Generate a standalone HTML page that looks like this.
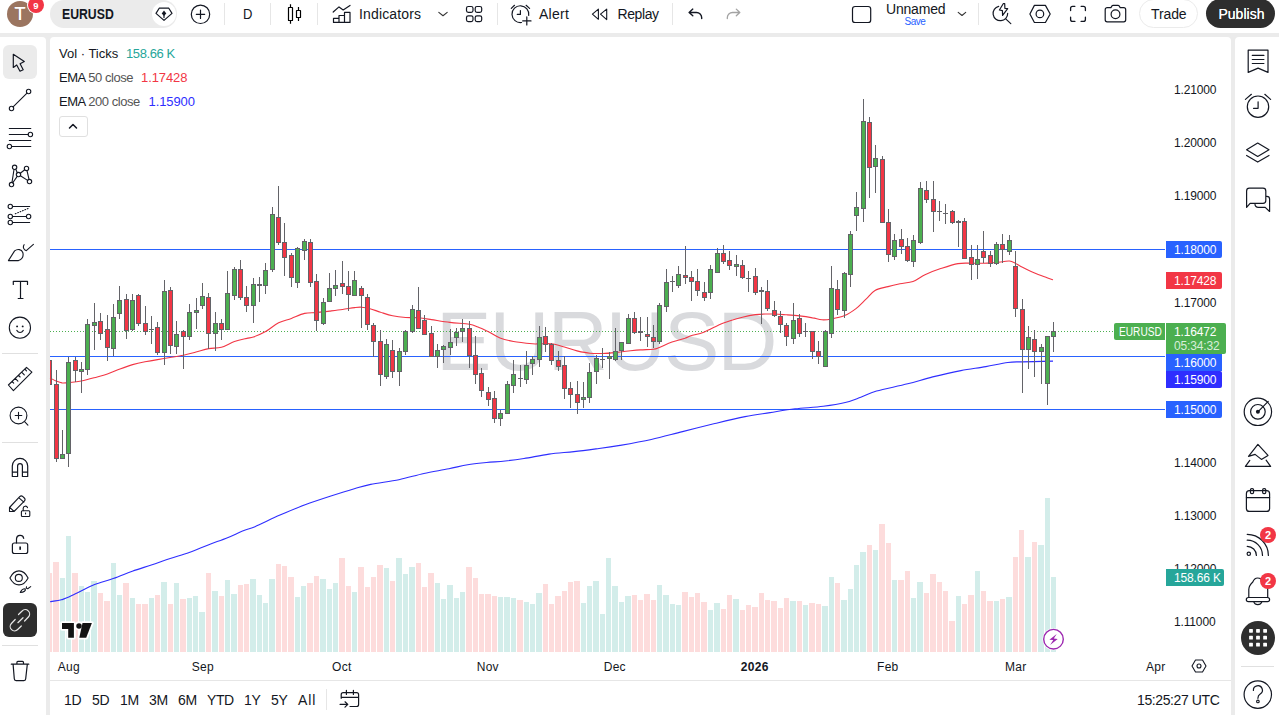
<!DOCTYPE html>
<html lang="en">
<head>
<meta charset="utf-8">
<title>EURUSD chart</title>
<style>
*{box-sizing:border-box;margin:0;padding:0}
html,body{width:1279px;height:715px;overflow:hidden}
body{background:#ebebeb;font-family:"Liberation Sans",sans-serif;color:#131722;position:relative;font-size:14px}
.abs{position:absolute}
.panel{position:absolute;background:#fff}
#top{left:0;top:0;width:1279px;height:33px}
#left{left:0;top:37px;width:46px;height:678px;border-top-right-radius:4px}
#chart{left:50px;top:37px;width:1181px;height:678px;border-top-left-radius:4px;border-top-right-radius:4px}
#right{left:1235px;top:37px;width:44px;height:678px;border-top-left-radius:4px}
.t{position:absolute;white-space:nowrap;line-height:1}
.sep{position:absolute;width:1px;background:#e6e6e6}
.hsep{position:absolute;height:1px;background:#e0e0e0}
svg{position:absolute;overflow:visible}
.ic{fill:none;stroke:#131722;stroke-width:1.1;stroke-linecap:round;stroke-linejoin:round}
.plab{position:absolute;left:1166px;width:56px;height:17px;color:#fff;font-size:12px;line-height:17px;padding:1px 0 0 8px;border-radius:0 2px 2px 0;letter-spacing:-0.15px;overflow:hidden}
.ax{position:absolute;left:1174px;font-size:12px;line-height:14px;color:#131722;letter-spacing:-0.15px}
.tx{position:absolute;top:659.5px;margin-left:0.8px;font-size:12px;line-height:14px;color:#131722;transform:translateX(-50%);white-space:nowrap;letter-spacing:0.3px}
.lg{font-size:13px;line-height:14px}
.bt{position:absolute;top:692px;font-size:14px;line-height:16px;color:#131722;white-space:nowrap;letter-spacing:-0.4px}
</style>
</head>
<body>
<!-- ===== TOP BAR ===== -->
<div id="top" class="panel"></div>
<div class="abs" style="left:7px;top:0.500px;width:26px;height:26px;border-radius:50%;background:#9b7560"></div>
<div class="t" style="left:14.500px;top:5px;font-size:18px;color:#fff;text-shadow:0 0 .5px #fff">T</div>
<div class="abs" style="left:27px;top:-4.200px;width:18px;height:18px;border-radius:50%;background:#fff"></div>
<div class="abs" style="left:28px;top:-3.200px;width:16px;height:16px;border-radius:50%;background:#f23645"></div>
<div class="t" style="left:33.300px;top:0.700px;font-size:9.500px;font-weight:bold;color:#fff">9</div>

<div class="abs" style="left:50px;top:0;width:127px;height:28px;border-radius:14px;background:#ebebeb"></div>
<div class="t" style="left:62px;top:7px;font-size:14px;font-weight:bold;transform:scaleX(.875);transform-origin:left">EURUSD</div>
<div class="abs" style="left:152px;top:2px;width:24px;height:24px;border-radius:50%;background:#fff"></div>
<svg style="left:152px;top:2px" width="24" height="24" viewBox="152 2 24 24"><path class="ic" style="stroke-width:1.200" d="M159.200 8.200h9.600l3.200 5.200-8 7-8-7z"/><path d="M164 10.600l2.300 2.800-2.300 2.600-2.300-2.600z" fill="#131722"/><path d="M164 15v2.600" class="ic" style="stroke-width:1.200"/></svg>

<svg style="left:0;top:0" width="1279" height="34" viewBox="0 0 1279 34">
<!-- plus -->
<circle class="ic" style="stroke-width:1.200" cx="200.500" cy="14.300" r="9.200"/><path class="ic" style="stroke-width:1.200" d="M200.500 10.100v8.400M196.300 14.300h8.400"/>
<!-- candles -->
<g class="ic" style="stroke-width:1.200;stroke:#000;stroke-linecap:butt"><path d="M290.500 4.200v3.300M290.500 20.500v3.200M298.500 7v3.500M298.500 17.500v3.400"/><rect x="288.500" y="7.500" width="4" height="13" rx=".3"/><rect x="296.500" y="10.500" width="4" height="7" rx=".3"/></g>
<!-- indicators -->
<path class="ic" style="stroke-width:1.200" d="M333.200 12l5.800-5.100 4.200 3 6.800-4.500"/><path class="ic" style="stroke-width:1.200" d="M333.500 22.400v-4.100h5.500v4.100M339 22.400v-6.900h5.500v6.900M344.500 22.400V12.400h5.500v10zM333.500 22.400h16.500"/>
<!-- chevron -->
<path class="ic" style="stroke-width:1.100;stroke:#333" d="M438.800 12.400l4.200 3.400 4.200-3.400"/>
<!-- grid -->
<g class="ic" style="stroke-width:1.200"><rect x="466.500" y="6.500" width="6.500" height="5.800" rx="1.800"/><rect x="475.200" y="6.500" width="6.500" height="5.800" rx="1.800"/><rect x="466.500" y="15.800" width="6.500" height="5.800" rx="1.800"/><rect x="475.200" y="15.800" width="6.500" height="5.800" rx="1.800"/></g>
<!-- alert -->
<path class="ic" style="stroke-width:1.200" d="M528.700 15.400A8.400 8.400 0 1 0 521.500 22.500"/><path class="ic" style="stroke-width:1.200" d="M520.400 10.500v3.900h-3.100M511.300 8.400l3.200-3.100M526.100 5.300l3.500 3.100M526.800 16.900v8.100M522.700 20.900h8.300"/>
<!-- replay -->
<path class="ic" style="stroke-width:1.100" d="M598.400 9.100v10.200l-6-5.100zM606.700 9.100v10.500l-6.200-5.400z"/>
<!-- undo / redo -->
<path class="ic" style="stroke-width:1.400" d="M692.800 9.100l-3.700 3.400 3.700 3.300M689.300 12.500h7.200a5.200 5.200 0 0 1 5.200 5.200v.9"/>
<path class="ic" style="stroke-width:1.300;stroke:#a3a3a3" d="M736.300 9.100l3.500 3.400-3.500 3.300M739.600 12.500h-7.100a5.200 5.200 0 0 0-5.200 5.200v.9"/>
<!-- layout -->
<rect class="ic" style="stroke-width:1.200" x="852.500" y="6.500" width="18.200" height="16" rx="2.600"/>
<path class="ic" style="stroke-width:1.100;stroke:#333" d="M958.200 12.400l3.800 3.100 3.700-3.100"/>
<!-- quick search -->
<path class="ic" style="stroke-width:1.200" d="M998.700 6.300a7.300 7.300 0 1 0 9 7M1005.700 18.900l5.100 4.700"/><path class="ic" style="stroke-width:1.200" d="M1003.400 3.500L999.400 10l3 .600.200 4.800 5.100-6.700-2.800-.400-.200-4.800z"/>
<!-- settings -->
<path class="ic" style="stroke-width:1.200" d="M1034.400 5.400h11l4.800 8.600-4.800 8.500h-11l-4.500-8.500z"/><circle class="ic" style="stroke-width:1.200" cx="1039.900" cy="13.900" r="3.800"/>
<!-- fullscreen -->
<path class="ic" style="stroke-width:1.300" d="M1070.600 10.500v-2.200a2 2 0 0 1 2-2h2.300M1081.100 6.300h2.300a2 2 0 0 1 2 2v2.200M1085.400 17.200v2.200a2 2 0 0 1-2 2h-2.300M1074.900 21.400h-2.300a2 2 0 0 1-2-2v-2.200"/>
<!-- camera -->
<path class="ic" style="stroke-width:1.200" d="M1107.200 7.700h3.700l1.300-2a1 1 0 0 1 .800-.400h5.100a1 1 0 0 1 .800.400l1.300 2h3.500a2 2 0 0 1 2 2v10.100a2 2 0 0 1-2 2h-16.500a2 2 0 0 1-2-2V9.700a2 2 0 0 1 2-2z"/><circle class="ic" style="stroke-width:1.200" cx="1115.500" cy="14.200" r="4.400"/>
</svg>
<div class="sep" style="left:224px;top:3px;height:22px"></div>
<div class="t" style="left:243px;top:7px;font-size:14px;transform:scaleX(.93);transform-origin:left">D</div>
<div class="sep" style="left:270px;top:3px;height:22px"></div>
<div class="sep" style="left:317px;top:3px;height:22px"></div>
<div class="t" style="left:359px;top:7px;font-size:14px;letter-spacing:0.150px">Indicators</div>
<div class="sep" style="left:497px;top:3px;height:22px"></div>
<div class="t" style="left:539px;top:7px;font-size:14px;letter-spacing:0.250px">Alert</div>
<div class="t" style="left:617.500px;top:7px;font-size:14px;letter-spacing:-0.4px">Replay</div>
<div class="sep" style="left:672px;top:3px;height:22px"></div>
<div class="t" style="left:886px;top:2px;font-size:14px;letter-spacing:-0.2px">Unnamed</div>
<div class="t" style="left:904.500px;top:17px;font-size:10px;color:#2962ff;letter-spacing:-0.5px">Save</div>
<div class="sep" style="left:978px;top:3px;height:22px"></div>
<div class="abs" style="left:1139px;top:-1px;width:59px;height:29px;border-radius:14.500px;border:1px solid #ebebeb;background:#fff"></div>
<div class="t" style="left:1151px;top:7px;font-size:14px;letter-spacing:-0.1px">Trade</div>
<div class="abs" style="left:1206px;top:-1px;width:69px;height:29px;border-radius:14.500px;background:#2e2e2e"></div>
<div class="t" style="left:1218.500px;top:7px;font-size:14px;color:#fff;text-shadow:0 0 .4px #fff">Publish</div>

<!-- ===== LEFT TOOLBAR ===== -->
<div id="left" class="panel"></div>
<div class="abs" style="left:3px;top:45px;width:34px;height:34px;border-radius:6px;background:#ebebeb"></div>
<svg id="li" style="left:0;top:0" width="46" height="715" viewBox="0 0 46 715">
<!-- cursor -->
<path class="ic" style="stroke-width:1.200" d="M13.300 54.300V67.500l3.400-2.500 3.300 6.200 3.200-1.400-3.100-6 4.200-2.400z"/>
<!-- trend line -->
<circle class="ic" cx="11.500" cy="108.500" r="2.200"/><circle class="ic" cx="28.600" cy="91.500" r="2.200"/><path class="ic" d="M13.100 106.900L27 93.100"/>
<!-- fib -->
<path class="ic" d="M9.300 128.500h21.500M9.300 134.500h18.800M9.300 140.500h21.500M11.800 146.500h19"/><circle class="ic" cx="30.400" cy="134.500" r="2.200"/><circle class="ic" cx="9.400" cy="146.500" r="2.200"/>
<!-- pattern -->
<circle class="ic" cx="14.600" cy="167.300" r="2.200"/><circle class="ic" cx="26.500" cy="168.400" r="2.200"/><circle class="ic" cx="18.500" cy="174.600" r="2.200"/><circle class="ic" cx="11.500" cy="184.600" r="2.200"/><circle class="ic" cx="29.500" cy="181.600" r="2.200"/>
<path class="ic" d="M14 169.500l-2 12.900M15.800 169.200l1.500 3.500M17.200 176.400l-4.400 6.400M20.300 173.200l4.400-3.400M27 170.600l2 8.800M20.400 175.800l7.200 4.600"/>
<!-- forecast -->
<path class="ic" d="M12.600 206.500h17.100M12.600 216.500h13.700M12.600 222.500h17.100"/><circle class="ic" cx="10.300" cy="206.500" r="2.200"/><circle class="ic" cx="10.300" cy="216.500" r="2.200"/><circle class="ic" cx="28.600" cy="216.500" r="2.200"/><circle class="ic" cx="10.300" cy="222.500" r="2.200"/><path class="ic" stroke-dasharray="0.800 1.800" d="M15.300 213.800l13-5.400"/>
<!-- brush -->
<path class="ic" d="M8.400 260.600l6.200-9.700c3-2.400 7-1.600 8.200 1.600 1 3.800-1 6.800-4.300 8.100zM24.100 244.700c-1.600 2.400-.300 5.400 2.200 5.900M26.300 250.600l7.100-6.200"/>
<!-- T -->
<path class="ic" style="stroke-width:1.200" d="M13.300 284.500v-3.200h14.200v3.200M20.500 281.300V298.500M18.200 298.500h4.800"/>
<!-- smiley -->
<circle class="ic" cx="19.900" cy="327.700" r="10.600"/><circle cx="17.100" cy="326.400" r=".95" fill="#131722"/><circle cx="22.700" cy="326.400" r=".95" fill="#131722"/><path class="ic" d="M16.800 330.400c1.700 2.800 4.800 2.800 6.500 0"/>
<!-- ruler -->
<path class="ic" d="M8.400 385L26.500 367.300l5.400 4.800L13.400 390.600zM12 381.400l1.700 1.800M15.200 378.300l2.700 2.800M18.400 375.200l1.700 1.800M21.600 372.100l2.700 2.800M24.800 369l1.700 1.800"/>
<!-- zoom -->
<circle class="ic" cx="18.500" cy="415.500" r="8.400"/><path class="ic" d="M24.600 421.700l3.300 3.400M18.500 412.300v6.500M15.200 415.500h6.600"/>
<!-- magnet -->
<path class="ic" style="stroke-width:1.200" d="M12.300 476.500V466a7.700 7.700 0 0 1 15.400 0v10.500h-5.300V466a2.400 2.400 0 0 0-4.800 0v10.500zM12.300 472.200h5.300M22.400 472.200h5.300"/>
<!-- pencil lock -->
<path class="ic" d="M9.500 507.500v4h4.500l10.300-10.300a2.300 2.300 0 0 0 0-3.200l-1.400-1.400a2.300 2.300 0 0 0-3.200 0zM9.800 507.300l4.200 4.200M19 497.800l4.800 4.400"/><rect class="ic" x="21.400" y="510.700" width="8.400" height="5.800" rx="1"/><path class="ic" d="M23.200 510.600v-2.300a2.200 2.200 0 0 1 4.300-.600"/><rect x="25" y="512.600" width="1.100" height="1.800" fill="#131722"/>
<!-- lock -->
<rect class="ic" style="stroke-width:1.200" x="12.400" y="543" width="15.300" height="10.500" rx="2"/><path class="ic" style="stroke-width:1.200" d="M16.500 543v-4.200a3.650 3.650 0 0 1 7.200-.500"/><rect x="19.300" y="546.500" width="1.700" height="3.300" fill="#131722"/>
<!-- eye -->
<path class="ic" d="M9.900 577.900c2.400-4.600 5.600-7 9.100-7s6.700 2.400 9.100 7c-2.400 4.600-5.600 7-9.100 7s-6.700-2.400-9.100-7z"/><circle class="ic" cx="18.800" cy="577.900" r="3.500"/><path class="ic" d="M20.300 592.500c1-2.400 2.800-3.800 5-3.700.600 1.800-1.200 3.600-5 3.700zM26.500 586.800c-.500 1 .200 1.900 1.100 1.900M27.700 588.700l3-2.100"/>
<!-- trash -->
<path class="ic" style="stroke-width:1.200" d="M11.300 664.200h17.500M16.900 664v-1.600a1 1 0 0 1 1-1h4.600a1 1 0 0 1 1 1v1.600M13.100 664.400l1.200 14.400a1.800 1.800 0 0 0 1.800 1.800h7.800a1.800 1.800 0 0 0 1.800-1.800l1.600-14.400"/>
</svg>
<div class="hsep" style="left:2px;top:353px;width:36px"></div>
<div class="hsep" style="left:2px;top:442px;width:36px"></div>
<div class="abs" style="left:3px;top:603px;width:34px;height:34px;border-radius:6px;background:#2e2e2e"></div>
<svg style="left:0;top:0" width="46" height="715" viewBox="0 0 46 715"><path class="ic" style="stroke:#e8e8e8;stroke-width:1.200" d="M18.500 614.500l3.600-3.500a4.300 4.300 0 0 1 6.300 6l-3.800 4M21.300 626l-3.600 3.500a4.300 4.300 0 0 1-6.300-6l3.800-4M17.900 622.700l5.100-5"/></svg>
<div class="hsep" style="left:2px;top:645px;width:36px"></div>

<!-- ===== CHART ===== -->
<div id="chart" class="panel"></div>
<div class="t" style="left:436px;top:300px;font-size:83px;color:#d9dadd;letter-spacing:-1.8px" id="wm">EURUSD</div>
<svg id="chartsvg" style="left:0;top:0" width="1279" height="715" viewBox="0 0 1279 715">
<defs><clipPath id="plotclip"><rect x="50" y="37" width="1116" height="615"/></clipPath></defs>
<g shape-rendering="crispEdges"><rect x="50" y="573" width="2" height="79" fill="#fddcdc"/><rect x="53" y="562" width="6" height="90" fill="#fddcdc"/><rect x="60" y="578" width="5" height="74" fill="#d3edea"/><rect x="66" y="536" width="5" height="116" fill="#d3edea"/><rect x="72" y="573" width="6" height="79" fill="#fddcdc"/><rect x="79" y="586" width="5" height="66" fill="#d3edea"/><rect x="85" y="592" width="5" height="60" fill="#d3edea"/><rect x="91" y="581" width="6" height="71" fill="#d3edea"/><rect x="98" y="593" width="5" height="59" fill="#fddcdc"/><rect x="104" y="601" width="6" height="51" fill="#fddcdc"/><rect x="111" y="563" width="5" height="89" fill="#d3edea"/><rect x="117" y="595" width="5" height="57" fill="#d3edea"/><rect x="123" y="583" width="6" height="69" fill="#fddcdc"/><rect x="130" y="598" width="5" height="54" fill="#d3edea"/><rect x="136" y="604" width="5" height="48" fill="#fddcdc"/><rect x="142" y="604" width="6" height="48" fill="#fddcdc"/><rect x="149" y="598" width="5" height="54" fill="#d3edea"/><rect x="155" y="595" width="5" height="57" fill="#fddcdc"/><rect x="161" y="582" width="6" height="70" fill="#d3edea"/><rect x="168" y="604" width="5" height="48" fill="#fddcdc"/><rect x="174" y="583" width="5" height="69" fill="#d3edea"/><rect x="180" y="599" width="6" height="53" fill="#fddcdc"/><rect x="187" y="598" width="5" height="54" fill="#d3edea"/><rect x="193" y="596" width="5" height="56" fill="#d3edea"/><rect x="199" y="612" width="6" height="40" fill="#d3edea"/><rect x="206" y="573" width="5" height="79" fill="#fddcdc"/><rect x="212" y="591" width="6" height="61" fill="#d3edea"/><rect x="219" y="596" width="5" height="56" fill="#fddcdc"/><rect x="225" y="580" width="5" height="72" fill="#d3edea"/><rect x="231" y="594" width="6" height="58" fill="#d3edea"/><rect x="238" y="585" width="5" height="67" fill="#fddcdc"/><rect x="244" y="584" width="5" height="68" fill="#fddcdc"/><rect x="250" y="579" width="6" height="73" fill="#d3edea"/><rect x="257" y="595" width="5" height="57" fill="#d3edea"/><rect x="263" y="603" width="5" height="49" fill="#d3edea"/><rect x="269" y="579" width="6" height="73" fill="#d3edea"/><rect x="276" y="564" width="5" height="88" fill="#fddcdc"/><rect x="282" y="566" width="5" height="86" fill="#fddcdc"/><rect x="288" y="577" width="6" height="75" fill="#fddcdc"/><rect x="295" y="597" width="5" height="55" fill="#d3edea"/><rect x="301" y="586" width="5" height="66" fill="#d3edea"/><rect x="307" y="583" width="6" height="69" fill="#fddcdc"/><rect x="314" y="576" width="5" height="76" fill="#fddcdc"/><rect x="320" y="579" width="6" height="73" fill="#d3edea"/><rect x="327" y="589" width="5" height="63" fill="#d3edea"/><rect x="333" y="583" width="5" height="69" fill="#d3edea"/><rect x="339" y="558" width="6" height="94" fill="#fddcdc"/><rect x="346" y="586" width="5" height="66" fill="#fddcdc"/><rect x="352" y="592" width="5" height="60" fill="#d3edea"/><rect x="358" y="567" width="6" height="85" fill="#fddcdc"/><rect x="365" y="587" width="5" height="65" fill="#fddcdc"/><rect x="371" y="577" width="5" height="75" fill="#fddcdc"/><rect x="377" y="565" width="6" height="87" fill="#fddcdc"/><rect x="384" y="568" width="5" height="84" fill="#d3edea"/><rect x="390" y="581" width="5" height="71" fill="#fddcdc"/><rect x="396" y="558" width="6" height="94" fill="#d3edea"/><rect x="403" y="574" width="5" height="78" fill="#d3edea"/><rect x="409" y="567" width="6" height="85" fill="#d3edea"/><rect x="416" y="563" width="5" height="89" fill="#fddcdc"/><rect x="422" y="587" width="5" height="65" fill="#fddcdc"/><rect x="428" y="573" width="6" height="79" fill="#fddcdc"/><rect x="435" y="583" width="5" height="69" fill="#d3edea"/><rect x="441" y="599" width="5" height="53" fill="#d3edea"/><rect x="447" y="585" width="6" height="67" fill="#d3edea"/><rect x="454" y="598" width="5" height="54" fill="#d3edea"/><rect x="460" y="592" width="5" height="60" fill="#d3edea"/><rect x="466" y="567" width="6" height="85" fill="#fddcdc"/><rect x="473" y="578" width="5" height="74" fill="#fddcdc"/><rect x="479" y="594" width="5" height="58" fill="#fddcdc"/><rect x="485" y="594" width="6" height="58" fill="#fddcdc"/><rect x="492" y="596" width="5" height="56" fill="#fddcdc"/><rect x="498" y="597" width="5" height="55" fill="#d3edea"/><rect x="504" y="597" width="6" height="55" fill="#d3edea"/><rect x="511" y="598" width="5" height="54" fill="#d3edea"/><rect x="517" y="600" width="6" height="52" fill="#fddcdc"/><rect x="524" y="602" width="5" height="50" fill="#d3edea"/><rect x="530" y="604" width="5" height="48" fill="#d3edea"/><rect x="536" y="593" width="6" height="59" fill="#d3edea"/><rect x="543" y="584" width="5" height="68" fill="#fddcdc"/><rect x="549" y="604" width="5" height="48" fill="#fddcdc"/><rect x="555" y="596" width="6" height="56" fill="#fddcdc"/><rect x="562" y="591" width="5" height="61" fill="#fddcdc"/><rect x="568" y="582" width="5" height="70" fill="#fddcdc"/><rect x="574" y="581" width="6" height="71" fill="#fddcdc"/><rect x="581" y="603" width="5" height="49" fill="#d3edea"/><rect x="587" y="586" width="5" height="66" fill="#d3edea"/><rect x="593" y="581" width="6" height="71" fill="#d3edea"/><rect x="600" y="614" width="5" height="38" fill="#d3edea"/><rect x="606" y="558" width="5" height="94" fill="#d3edea"/><rect x="612" y="586" width="6" height="66" fill="#d3edea"/><rect x="619" y="602" width="5" height="50" fill="#d3edea"/><rect x="625" y="596" width="6" height="56" fill="#d3edea"/><rect x="632" y="595" width="5" height="57" fill="#fddcdc"/><rect x="638" y="600" width="5" height="52" fill="#fddcdc"/><rect x="644" y="594" width="6" height="58" fill="#fddcdc"/><rect x="651" y="600" width="5" height="52" fill="#fddcdc"/><rect x="657" y="585" width="5" height="67" fill="#d3edea"/><rect x="663" y="595" width="6" height="57" fill="#d3edea"/><rect x="670" y="604" width="5" height="48" fill="#d3edea"/><rect x="676" y="605" width="5" height="47" fill="#d3edea"/><rect x="682" y="592" width="6" height="60" fill="#fddcdc"/><rect x="689" y="597" width="5" height="55" fill="#fddcdc"/><rect x="695" y="593" width="5" height="59" fill="#fddcdc"/><rect x="701" y="602" width="6" height="50" fill="#fddcdc"/><rect x="708" y="610" width="5" height="42" fill="#d3edea"/><rect x="714" y="603" width="6" height="49" fill="#d3edea"/><rect x="721" y="609" width="5" height="43" fill="#fddcdc"/><rect x="727" y="595" width="5" height="57" fill="#fddcdc"/><rect x="733" y="599" width="6" height="53" fill="#d3edea"/><rect x="740" y="610" width="5" height="42" fill="#fddcdc"/><rect x="746" y="605" width="5" height="47" fill="#fddcdc"/><rect x="752" y="607" width="6" height="45" fill="#fddcdc"/><rect x="759" y="593" width="5" height="59" fill="#fddcdc"/><rect x="765" y="600" width="5" height="52" fill="#fddcdc"/><rect x="771" y="601" width="6" height="51" fill="#fddcdc"/><rect x="778" y="608" width="5" height="44" fill="#fddcdc"/><rect x="784" y="598" width="5" height="54" fill="#fddcdc"/><rect x="790" y="601" width="6" height="51" fill="#d3edea"/><rect x="797" y="601" width="5" height="51" fill="#fddcdc"/><rect x="803" y="605" width="5" height="47" fill="#d3edea"/><rect x="809" y="603" width="6" height="49" fill="#fddcdc"/><rect x="816" y="604" width="5" height="48" fill="#fddcdc"/><rect x="822" y="606" width="6" height="46" fill="#d3edea"/><rect x="829" y="577" width="5" height="75" fill="#d3edea"/><rect x="835" y="583" width="5" height="69" fill="#fddcdc"/><rect x="841" y="600" width="6" height="52" fill="#d3edea"/><rect x="848" y="589" width="5" height="63" fill="#d3edea"/><rect x="854" y="565" width="5" height="87" fill="#d3edea"/><rect x="860" y="552" width="6" height="100" fill="#d3edea"/><rect x="867" y="545" width="5" height="107" fill="#fddcdc"/><rect x="873" y="550" width="5" height="102" fill="#d3edea"/><rect x="879" y="524" width="6" height="128" fill="#fddcdc"/><rect x="886" y="543" width="5" height="109" fill="#fddcdc"/><rect x="892" y="580" width="5" height="72" fill="#d3edea"/><rect x="898" y="580" width="6" height="72" fill="#fddcdc"/><rect x="905" y="571" width="5" height="81" fill="#fddcdc"/><rect x="911" y="598" width="5" height="54" fill="#d3edea"/><rect x="917" y="582" width="6" height="70" fill="#d3edea"/><rect x="924" y="593" width="5" height="59" fill="#fddcdc"/><rect x="930" y="574" width="6" height="78" fill="#fddcdc"/><rect x="937" y="582" width="5" height="70" fill="#fddcdc"/><rect x="943" y="591" width="5" height="61" fill="#fddcdc"/><rect x="949" y="621" width="6" height="31" fill="#fddcdc"/><rect x="956" y="596" width="5" height="56" fill="#d3edea"/><rect x="962" y="604" width="5" height="48" fill="#fddcdc"/><rect x="968" y="595" width="6" height="57" fill="#fddcdc"/><rect x="975" y="571" width="5" height="81" fill="#d3edea"/><rect x="981" y="591" width="5" height="61" fill="#fddcdc"/><rect x="987" y="601" width="6" height="51" fill="#fddcdc"/><rect x="994" y="601" width="5" height="51" fill="#d3edea"/><rect x="1000" y="599" width="5" height="53" fill="#fddcdc"/><rect x="1006" y="597" width="6" height="55" fill="#d3edea"/><rect x="1013" y="557" width="5" height="95" fill="#fddcdc"/><rect x="1019" y="530" width="5" height="122" fill="#fddcdc"/><rect x="1025" y="557" width="6" height="95" fill="#d3edea"/><rect x="1032" y="542" width="5" height="110" fill="#fddcdc"/><rect x="1038" y="545" width="6" height="107" fill="#d3edea"/><rect x="1045" y="498" width="5" height="154" fill="#d3edea"/><rect x="1051" y="577" width="5" height="75" fill="#d3edea"/></g>
<g shape-rendering="crispEdges"><rect x="50" y="249" width="1115" height="1" fill="#2962ff"/><rect x="50" y="356" width="1115" height="1" fill="#2962ff"/><rect x="50" y="409" width="1115" height="1" fill="#2962ff"/></g>
<line x1="50" y1="331.5" x2="1114" y2="331.5" stroke="#4caf50" stroke-width="1" stroke-dasharray="1 2" shape-rendering="crispEdges"/>
<path d="M50.2,601.6 C52.2,601.3 58.1,600.9 62.2,599.6 C66.3,598.4 69.6,596.6 74.9,594.1 C80.2,591.6 87.6,587.3 94.0,584.7 C100.4,582.1 106.8,580.9 113.2,578.6 C119.6,576.4 126.0,573.5 132.3,571.2 C138.7,568.9 145.0,567.1 151.3,565.0 C157.6,562.9 163.9,560.6 170.2,558.5 C176.5,556.4 182.9,554.8 189.2,552.5 C195.5,550.2 201.8,547.4 208.2,544.9 C214.6,542.4 221.6,540.1 227.5,537.7 C233.4,535.3 239.3,532.3 243.9,530.5 C248.5,528.7 249.0,529.3 255.0,526.7 C261.0,524.1 271.6,518.8 280.0,515.1 C288.4,511.5 296.8,507.9 305.1,504.8 C313.5,501.7 321.8,499.0 330.1,496.3 C338.4,493.6 348.3,490.5 355.1,488.5 C361.9,486.5 363.4,485.9 370.7,484.4 C378.0,482.9 390.0,481.5 398.9,479.7 C407.8,477.9 415.6,475.3 423.9,473.5 C432.2,471.7 441.6,470.3 448.9,468.8 C456.2,467.3 461.4,465.8 467.7,464.7 C474.0,463.6 480.2,463.1 486.5,462.5 C492.8,461.9 498.9,461.7 505.2,461.0 C511.4,460.3 516.7,459.6 524.0,458.5 C531.3,457.4 540.7,455.2 549.0,454.1 C557.3,453.0 565.7,452.5 574.0,451.6 C582.3,450.7 591.3,449.5 599.0,448.5 C606.7,447.5 611.3,446.9 620.0,445.4 C628.7,443.9 640.9,441.8 651.3,439.5 C661.7,437.2 672.1,434.2 682.5,431.6 C692.9,429.0 703.4,426.3 713.8,423.8 C724.2,421.3 735.7,418.5 745.1,416.6 C754.5,414.7 761.8,413.9 770.1,412.6 C778.4,411.3 786.2,409.9 795.1,408.8 C804.0,407.8 814.9,407.4 823.3,406.3 C831.6,405.2 839.0,404.0 845.2,402.5 C851.5,401.0 855.6,399.1 860.8,397.2 C866.0,395.3 868.7,393.2 876.5,391.0 C884.3,388.8 898.3,386.2 907.7,383.8 C917.1,381.4 923.8,379.1 932.7,376.9 C941.6,374.7 952.0,372.3 960.9,370.6 C969.8,368.9 978.1,368.0 985.9,366.6 C993.7,365.2 1002.1,363.3 1007.8,362.5 C1013.5,361.7 1015.6,362.0 1020.0,361.9 C1024.4,361.8 1028.5,361.7 1034.0,361.6 C1039.5,361.5 1049.8,361.2 1053.0,361.1" fill="none" stroke="#2e2eff" stroke-width="1.1" stroke-linejoin="round"/>
<path d="M50.0,377.9 C51.0,378.4 54.0,380.2 56.0,381.0 C58.0,381.8 59.7,382.6 62.0,382.9 C64.3,383.1 66.8,382.8 70.0,382.5 C73.2,382.2 77.4,381.8 81.4,381.0 C85.4,380.2 89.7,379.0 94.0,377.8 C98.3,376.6 103.1,375.5 107.4,374.0 C111.7,372.5 115.8,370.6 120.0,369.0 C124.2,367.4 128.4,365.8 132.6,364.6 C136.8,363.4 140.8,362.6 145.0,361.8 C149.2,361.0 153.3,360.3 157.5,359.6 C161.7,358.9 165.7,358.2 170.0,357.5 C174.3,356.8 179.2,356.1 183.5,355.2 C187.8,354.3 191.8,353.1 196.0,352.0 C200.2,350.9 204.5,349.4 208.7,348.6 C212.9,347.8 217.1,348.5 221.4,347.3 C225.7,346.1 230.2,343.0 234.4,341.5 C238.6,340.0 243.4,339.1 246.6,338.4 C249.8,337.6 250.2,338.1 253.4,337.0 C256.6,335.9 261.4,334.0 265.6,331.6 C269.8,329.2 274.3,325.0 278.6,322.8 C282.9,320.6 287.1,320.0 291.4,318.4 C295.7,316.8 300.4,314.4 304.6,313.4 C308.8,312.4 312.4,313.0 316.5,312.6 C320.6,312.2 325.2,311.6 329.5,311.1 C333.8,310.6 338.3,310.1 342.5,309.5 C346.7,308.9 351.5,308.0 354.7,307.6 C357.9,307.2 359.1,307.0 361.6,307.2 C364.2,307.4 366.9,307.9 370.0,308.7 C373.1,309.5 376.7,311.0 380.5,312.2 C384.3,313.4 388.4,314.9 392.6,315.8 C396.8,316.7 401.3,317.2 405.6,317.5 C409.9,317.8 414.2,317.4 418.5,317.8 C422.8,318.2 426.2,318.8 431.5,319.6 C436.8,320.4 443.7,321.6 450.0,322.4 C456.3,323.2 464.7,323.5 469.4,324.3 C474.1,325.1 474.8,325.8 478.0,327.0 C481.2,328.2 484.8,330.0 488.5,331.8 C492.2,333.6 495.8,336.4 500.0,338.0 C504.2,339.6 508.1,340.5 513.5,341.5 C518.9,342.5 528.2,343.4 532.5,343.8 C536.8,344.2 536.2,343.8 539.4,343.8 C542.5,343.8 547.2,343.3 551.4,343.8 C555.6,344.3 560.1,345.8 564.4,347.0 C568.7,348.2 572.7,349.8 577.0,350.9 C581.3,351.9 585.7,352.9 590.0,353.3 C594.3,353.7 598.3,353.6 602.6,353.5 C606.9,353.4 611.3,353.0 615.6,352.6 C619.9,352.2 624.2,351.4 628.4,351.0 C632.5,350.6 636.3,350.2 640.5,349.9 C644.7,349.6 650.4,349.6 653.5,349.2 C656.6,348.8 656.3,348.6 659.4,347.4 C662.5,346.2 667.7,343.6 672.0,342.1 C676.3,340.6 681.8,339.2 685.0,338.2 C688.2,337.1 687.8,336.9 691.0,335.8 C694.2,334.8 699.0,334.0 704.4,331.9 C709.8,329.8 717.2,325.4 723.5,323.0 C729.8,320.6 737.1,318.6 742.4,317.2 C747.7,315.8 751.2,315.1 755.4,314.6 C759.6,314.1 764.3,314.1 767.5,314.0 C770.7,313.9 771.4,313.9 774.6,314.0 C777.8,314.1 782.5,314.5 786.6,314.8 C790.8,315.1 795.2,315.4 799.5,315.9 C803.8,316.4 808.8,317.2 812.5,317.9 C816.2,318.5 818.8,319.6 822.0,319.8 C825.2,320.0 827.8,319.7 831.6,319.0 C835.4,318.3 840.5,317.3 844.6,315.6 C848.7,313.9 852.4,311.3 856.0,308.6 C859.6,305.9 862.8,302.2 866.0,299.2 C869.2,296.2 871.3,292.6 875.0,290.5 C878.7,288.4 883.8,287.7 888.0,286.6 C892.2,285.5 895.8,284.7 900.0,283.8 C904.2,282.9 908.8,283.0 913.0,281.5 C917.2,280.0 920.5,276.8 925.0,274.7 C929.5,272.6 934.5,270.6 940.0,268.8 C945.5,267.0 952.8,264.5 958.0,263.6 C963.2,262.7 967.2,263.2 971.5,263.2 C975.8,263.1 980.9,263.3 984.0,263.3 C987.1,263.3 986.9,263.2 990.0,263.0 C993.1,262.8 999.2,262.1 1002.5,261.8 C1005.8,261.5 1007.3,260.7 1009.5,261.0 C1011.7,261.3 1013.3,262.3 1015.5,263.4 C1017.7,264.4 1019.4,265.7 1022.5,267.3 C1025.6,268.9 1029.9,271.1 1034.0,272.8 C1038.1,274.6 1043.8,276.6 1047.0,277.8 C1050.2,279.0 1052.0,279.5 1053.0,279.8" fill="none" stroke="#f23645" stroke-width="1.1" stroke-linejoin="round"/>
<g shape-rendering="crispEdges" clip-path="url(#plotclip)"><rect x="49" y="360" width="1" height="25" fill="#636368"/><rect x="47" y="360" width="5" height="25" fill="#636368"/><rect x="48" y="361" width="3" height="23" fill="#f23645"/><rect x="56" y="370" width="1" height="92" fill="#636368"/><rect x="54" y="384" width="5" height="75" fill="#636368"/><rect x="55" y="385" width="3" height="73" fill="#f23645"/><rect x="62" y="430" width="1" height="29" fill="#636368"/><rect x="60" y="454" width="5" height="5" fill="#636368"/><rect x="61" y="455" width="3" height="3" fill="#4caf50"/><rect x="68" y="357" width="1" height="110" fill="#636368"/><rect x="66" y="362" width="5" height="92" fill="#636368"/><rect x="67" y="363" width="3" height="90" fill="#4caf50"/><rect x="75" y="357" width="1" height="25" fill="#636368"/><rect x="73" y="360" width="5" height="11" fill="#636368"/><rect x="74" y="361" width="3" height="9" fill="#f23645"/><rect x="81" y="362" width="1" height="31" fill="#636368"/><rect x="79" y="369" width="5" height="3" fill="#636368"/><rect x="80" y="370" width="3" height="1" fill="#4caf50"/><rect x="87" y="319" width="1" height="56" fill="#636368"/><rect x="85" y="324" width="5" height="46" fill="#636368"/><rect x="86" y="325" width="3" height="44" fill="#4caf50"/><rect x="94" y="303" width="1" height="47" fill="#636368"/><rect x="92" y="322" width="5" height="4" fill="#636368"/><rect x="93" y="323" width="3" height="2" fill="#4caf50"/><rect x="100" y="313" width="1" height="27" fill="#636368"/><rect x="98" y="321" width="5" height="13" fill="#636368"/><rect x="99" y="322" width="3" height="11" fill="#f23645"/><rect x="107" y="315" width="1" height="46" fill="#636368"/><rect x="105" y="329" width="5" height="19" fill="#636368"/><rect x="106" y="330" width="3" height="17" fill="#f23645"/><rect x="113" y="304" width="1" height="52" fill="#636368"/><rect x="111" y="317" width="5" height="32" fill="#636368"/><rect x="112" y="318" width="3" height="30" fill="#4caf50"/><rect x="119" y="286" width="1" height="33" fill="#636368"/><rect x="117" y="300" width="5" height="14" fill="#636368"/><rect x="118" y="301" width="3" height="12" fill="#4caf50"/><rect x="126" y="294" width="1" height="45" fill="#636368"/><rect x="124" y="299" width="5" height="32" fill="#636368"/><rect x="125" y="300" width="3" height="30" fill="#f23645"/><rect x="132" y="294" width="1" height="37" fill="#636368"/><rect x="130" y="300" width="5" height="30" fill="#636368"/><rect x="131" y="301" width="3" height="28" fill="#4caf50"/><rect x="138" y="294" width="1" height="32" fill="#636368"/><rect x="136" y="295" width="5" height="29" fill="#636368"/><rect x="137" y="296" width="3" height="27" fill="#f23645"/><rect x="145" y="306" width="1" height="29" fill="#636368"/><rect x="143" y="323" width="5" height="9" fill="#636368"/><rect x="144" y="324" width="3" height="7" fill="#f23645"/><rect x="151" y="316" width="1" height="28" fill="#636368"/><rect x="149" y="329" width="5" height="1" fill="#636368"/><rect x="157" y="322" width="1" height="33" fill="#636368"/><rect x="155" y="327" width="5" height="26" fill="#636368"/><rect x="156" y="328" width="3" height="24" fill="#f23645"/><rect x="164" y="280" width="1" height="85" fill="#636368"/><rect x="162" y="291" width="5" height="62" fill="#636368"/><rect x="163" y="292" width="3" height="60" fill="#4caf50"/><rect x="170" y="287" width="1" height="67" fill="#636368"/><rect x="168" y="290" width="5" height="56" fill="#636368"/><rect x="169" y="291" width="3" height="54" fill="#f23645"/><rect x="176" y="321" width="1" height="33" fill="#636368"/><rect x="174" y="334" width="5" height="13" fill="#636368"/><rect x="175" y="335" width="3" height="11" fill="#4caf50"/><rect x="183" y="330" width="1" height="39" fill="#636368"/><rect x="181" y="331" width="5" height="6" fill="#636368"/><rect x="182" y="332" width="3" height="4" fill="#f23645"/><rect x="189" y="304" width="1" height="36" fill="#636368"/><rect x="187" y="312" width="5" height="25" fill="#636368"/><rect x="188" y="313" width="3" height="23" fill="#4caf50"/><rect x="196" y="298" width="1" height="31" fill="#636368"/><rect x="194" y="310" width="5" height="3" fill="#636368"/><rect x="195" y="311" width="3" height="1" fill="#4caf50"/><rect x="202" y="283" width="1" height="26" fill="#636368"/><rect x="200" y="296" width="5" height="10" fill="#636368"/><rect x="201" y="297" width="3" height="8" fill="#4caf50"/><rect x="208" y="293" width="1" height="56" fill="#636368"/><rect x="206" y="297" width="5" height="37" fill="#636368"/><rect x="207" y="298" width="3" height="35" fill="#f23645"/><rect x="215" y="312" width="1" height="39" fill="#636368"/><rect x="213" y="323" width="5" height="11" fill="#636368"/><rect x="214" y="324" width="3" height="9" fill="#4caf50"/><rect x="221" y="319" width="1" height="21" fill="#636368"/><rect x="219" y="323" width="5" height="7" fill="#636368"/><rect x="220" y="324" width="3" height="5" fill="#f23645"/><rect x="227" y="271" width="1" height="59" fill="#636368"/><rect x="225" y="293" width="5" height="37" fill="#636368"/><rect x="226" y="294" width="3" height="35" fill="#4caf50"/><rect x="234" y="267" width="1" height="33" fill="#636368"/><rect x="232" y="269" width="5" height="27" fill="#636368"/><rect x="233" y="270" width="3" height="25" fill="#4caf50"/><rect x="240" y="260" width="1" height="40" fill="#636368"/><rect x="238" y="269" width="5" height="29" fill="#636368"/><rect x="239" y="270" width="3" height="27" fill="#f23645"/><rect x="246" y="286" width="1" height="26" fill="#636368"/><rect x="244" y="297" width="5" height="9" fill="#636368"/><rect x="245" y="298" width="3" height="7" fill="#f23645"/><rect x="253" y="278" width="1" height="45" fill="#636368"/><rect x="251" y="284" width="5" height="22" fill="#636368"/><rect x="252" y="285" width="3" height="20" fill="#4caf50"/><rect x="259" y="277" width="1" height="25" fill="#636368"/><rect x="257" y="284" width="5" height="2" fill="#636368"/><rect x="265" y="263" width="1" height="31" fill="#636368"/><rect x="263" y="270" width="5" height="16" fill="#636368"/><rect x="264" y="271" width="3" height="14" fill="#4caf50"/><rect x="272" y="207" width="1" height="65" fill="#636368"/><rect x="270" y="214" width="5" height="56" fill="#636368"/><rect x="271" y="215" width="3" height="54" fill="#4caf50"/><rect x="278" y="186" width="1" height="59" fill="#636368"/><rect x="276" y="217" width="5" height="26" fill="#636368"/><rect x="277" y="218" width="3" height="24" fill="#f23645"/><rect x="284" y="223" width="1" height="53" fill="#636368"/><rect x="282" y="242" width="5" height="16" fill="#636368"/><rect x="283" y="243" width="3" height="14" fill="#f23645"/><rect x="291" y="253" width="1" height="34" fill="#636368"/><rect x="289" y="255" width="5" height="23" fill="#636368"/><rect x="290" y="256" width="3" height="21" fill="#f23645"/><rect x="297" y="247" width="1" height="41" fill="#636368"/><rect x="295" y="248" width="5" height="35" fill="#636368"/><rect x="296" y="249" width="3" height="33" fill="#4caf50"/><rect x="304" y="239" width="1" height="21" fill="#636368"/><rect x="302" y="241" width="5" height="10" fill="#636368"/><rect x="303" y="242" width="3" height="8" fill="#4caf50"/><rect x="310" y="239" width="1" height="48" fill="#636368"/><rect x="308" y="242" width="5" height="41" fill="#636368"/><rect x="309" y="243" width="3" height="39" fill="#f23645"/><rect x="316" y="274" width="1" height="57" fill="#636368"/><rect x="314" y="281" width="5" height="40" fill="#636368"/><rect x="315" y="282" width="3" height="38" fill="#f23645"/><rect x="323" y="298" width="1" height="27" fill="#636368"/><rect x="321" y="302" width="5" height="22" fill="#636368"/><rect x="322" y="303" width="3" height="20" fill="#4caf50"/><rect x="329" y="273" width="1" height="29" fill="#636368"/><rect x="327" y="288" width="5" height="14" fill="#636368"/><rect x="328" y="289" width="3" height="12" fill="#4caf50"/><rect x="335" y="270" width="1" height="26" fill="#636368"/><rect x="333" y="285" width="5" height="4" fill="#636368"/><rect x="334" y="286" width="3" height="2" fill="#4caf50"/><rect x="342" y="261" width="1" height="33" fill="#636368"/><rect x="340" y="283" width="5" height="4" fill="#636368"/><rect x="341" y="284" width="3" height="2" fill="#f23645"/><rect x="348" y="271" width="1" height="40" fill="#636368"/><rect x="346" y="286" width="5" height="9" fill="#636368"/><rect x="347" y="287" width="3" height="7" fill="#f23645"/><rect x="354" y="271" width="1" height="25" fill="#636368"/><rect x="352" y="280" width="5" height="16" fill="#636368"/><rect x="353" y="281" width="3" height="14" fill="#4caf50"/><rect x="361" y="286" width="1" height="42" fill="#636368"/><rect x="359" y="288" width="5" height="8" fill="#636368"/><rect x="360" y="289" width="3" height="6" fill="#f23645"/><rect x="367" y="294" width="1" height="36" fill="#636368"/><rect x="365" y="297" width="5" height="28" fill="#636368"/><rect x="366" y="298" width="3" height="26" fill="#f23645"/><rect x="373" y="323" width="1" height="34" fill="#636368"/><rect x="371" y="325" width="5" height="17" fill="#636368"/><rect x="372" y="326" width="3" height="15" fill="#f23645"/><rect x="380" y="330" width="1" height="56" fill="#636368"/><rect x="378" y="341" width="5" height="34" fill="#636368"/><rect x="379" y="342" width="3" height="32" fill="#f23645"/><rect x="386" y="339" width="1" height="40" fill="#636368"/><rect x="384" y="344" width="5" height="33" fill="#636368"/><rect x="385" y="345" width="3" height="31" fill="#4caf50"/><rect x="392" y="340" width="1" height="38" fill="#636368"/><rect x="390" y="350" width="5" height="22" fill="#636368"/><rect x="391" y="351" width="3" height="20" fill="#f23645"/><rect x="399" y="348" width="1" height="38" fill="#636368"/><rect x="397" y="351" width="5" height="21" fill="#636368"/><rect x="398" y="352" width="3" height="19" fill="#4caf50"/><rect x="405" y="330" width="1" height="25" fill="#636368"/><rect x="403" y="331" width="5" height="21" fill="#636368"/><rect x="404" y="332" width="3" height="19" fill="#4caf50"/><rect x="412" y="305" width="1" height="28" fill="#636368"/><rect x="410" y="309" width="5" height="23" fill="#636368"/><rect x="411" y="310" width="3" height="21" fill="#4caf50"/><rect x="418" y="287" width="1" height="42" fill="#636368"/><rect x="416" y="310" width="5" height="19" fill="#636368"/><rect x="417" y="311" width="3" height="17" fill="#f23645"/><rect x="424" y="315" width="1" height="20" fill="#636368"/><rect x="422" y="320" width="5" height="15" fill="#636368"/><rect x="423" y="321" width="3" height="13" fill="#f23645"/><rect x="431" y="326" width="1" height="31" fill="#636368"/><rect x="429" y="333" width="5" height="24" fill="#636368"/><rect x="430" y="334" width="3" height="22" fill="#f23645"/><rect x="437" y="344" width="1" height="24" fill="#636368"/><rect x="435" y="350" width="5" height="7" fill="#636368"/><rect x="436" y="351" width="3" height="5" fill="#4caf50"/><rect x="443" y="345" width="1" height="18" fill="#636368"/><rect x="441" y="346" width="5" height="4" fill="#636368"/><rect x="442" y="347" width="3" height="2" fill="#4caf50"/><rect x="450" y="329" width="1" height="26" fill="#636368"/><rect x="448" y="342" width="5" height="6" fill="#636368"/><rect x="449" y="343" width="3" height="4" fill="#4caf50"/><rect x="456" y="328" width="1" height="18" fill="#636368"/><rect x="454" y="332" width="5" height="6" fill="#636368"/><rect x="455" y="333" width="3" height="4" fill="#4caf50"/><rect x="462" y="319" width="1" height="23" fill="#636368"/><rect x="460" y="328" width="5" height="4" fill="#636368"/><rect x="461" y="329" width="3" height="2" fill="#4caf50"/><rect x="469" y="321" width="1" height="47" fill="#636368"/><rect x="467" y="328" width="5" height="28" fill="#636368"/><rect x="468" y="329" width="3" height="26" fill="#f23645"/><rect x="475" y="336" width="1" height="48" fill="#636368"/><rect x="473" y="355" width="5" height="20" fill="#636368"/><rect x="474" y="356" width="3" height="18" fill="#f23645"/><rect x="481" y="368" width="1" height="29" fill="#636368"/><rect x="479" y="373" width="5" height="18" fill="#636368"/><rect x="480" y="374" width="3" height="16" fill="#f23645"/><rect x="488" y="387" width="1" height="19" fill="#636368"/><rect x="486" y="392" width="5" height="8" fill="#636368"/><rect x="487" y="393" width="3" height="6" fill="#f23645"/><rect x="494" y="391" width="1" height="32" fill="#636368"/><rect x="492" y="398" width="5" height="21" fill="#636368"/><rect x="493" y="399" width="3" height="19" fill="#f23645"/><rect x="500" y="410" width="1" height="16" fill="#636368"/><rect x="498" y="413" width="5" height="6" fill="#636368"/><rect x="499" y="414" width="3" height="4" fill="#4caf50"/><rect x="507" y="381" width="1" height="33" fill="#636368"/><rect x="505" y="384" width="5" height="30" fill="#636368"/><rect x="506" y="385" width="3" height="28" fill="#4caf50"/><rect x="513" y="360" width="1" height="33" fill="#636368"/><rect x="511" y="374" width="5" height="12" fill="#636368"/><rect x="512" y="375" width="3" height="10" fill="#4caf50"/><rect x="520" y="365" width="1" height="22" fill="#636368"/><rect x="518" y="378" width="5" height="1" fill="#636368"/><rect x="526" y="351" width="1" height="33" fill="#636368"/><rect x="524" y="365" width="5" height="15" fill="#636368"/><rect x="525" y="366" width="3" height="13" fill="#4caf50"/><rect x="532" y="356" width="1" height="19" fill="#636368"/><rect x="530" y="359" width="5" height="5" fill="#636368"/><rect x="531" y="360" width="3" height="3" fill="#4caf50"/><rect x="539" y="326" width="1" height="41" fill="#636368"/><rect x="537" y="337" width="5" height="23" fill="#636368"/><rect x="538" y="338" width="3" height="21" fill="#4caf50"/><rect x="545" y="327" width="1" height="25" fill="#636368"/><rect x="543" y="336" width="5" height="9" fill="#636368"/><rect x="544" y="337" width="3" height="7" fill="#f23645"/><rect x="551" y="343" width="1" height="22" fill="#636368"/><rect x="549" y="344" width="5" height="17" fill="#636368"/><rect x="550" y="345" width="3" height="15" fill="#f23645"/><rect x="558" y="351" width="1" height="20" fill="#636368"/><rect x="556" y="360" width="5" height="7" fill="#636368"/><rect x="557" y="361" width="3" height="5" fill="#f23645"/><rect x="564" y="356" width="1" height="43" fill="#636368"/><rect x="562" y="365" width="5" height="24" fill="#636368"/><rect x="563" y="366" width="3" height="22" fill="#f23645"/><rect x="570" y="382" width="1" height="26" fill="#636368"/><rect x="568" y="388" width="5" height="7" fill="#636368"/><rect x="569" y="389" width="3" height="5" fill="#f23645"/><rect x="577" y="381" width="1" height="33" fill="#636368"/><rect x="575" y="394" width="5" height="9" fill="#636368"/><rect x="576" y="395" width="3" height="7" fill="#f23645"/><rect x="583" y="382" width="1" height="26" fill="#636368"/><rect x="581" y="397" width="5" height="3" fill="#636368"/><rect x="582" y="398" width="3" height="1" fill="#4caf50"/><rect x="589" y="363" width="1" height="40" fill="#636368"/><rect x="587" y="372" width="5" height="26" fill="#636368"/><rect x="588" y="373" width="3" height="24" fill="#4caf50"/><rect x="596" y="355" width="1" height="29" fill="#636368"/><rect x="594" y="358" width="5" height="14" fill="#636368"/><rect x="595" y="359" width="3" height="12" fill="#4caf50"/><rect x="602" y="348" width="1" height="20" fill="#636368"/><rect x="600" y="359" width="5" height="1" fill="#636368"/><rect x="609" y="352" width="1" height="27" fill="#636368"/><rect x="607" y="356" width="5" height="3" fill="#636368"/><rect x="608" y="357" width="3" height="1" fill="#4caf50"/><rect x="615" y="328" width="1" height="33" fill="#636368"/><rect x="613" y="351" width="5" height="9" fill="#636368"/><rect x="614" y="352" width="3" height="7" fill="#4caf50"/><rect x="621" y="342" width="1" height="18" fill="#636368"/><rect x="619" y="342" width="5" height="9" fill="#636368"/><rect x="620" y="343" width="3" height="7" fill="#4caf50"/><rect x="628" y="314" width="1" height="30" fill="#636368"/><rect x="626" y="318" width="5" height="26" fill="#636368"/><rect x="627" y="319" width="3" height="24" fill="#4caf50"/><rect x="634" y="312" width="1" height="22" fill="#636368"/><rect x="632" y="318" width="5" height="15" fill="#636368"/><rect x="633" y="319" width="3" height="13" fill="#f23645"/><rect x="640" y="317" width="1" height="24" fill="#636368"/><rect x="638" y="331" width="5" height="2" fill="#636368"/><rect x="647" y="317" width="1" height="30" fill="#636368"/><rect x="645" y="334" width="5" height="3" fill="#636368"/><rect x="646" y="335" width="3" height="1" fill="#f23645"/><rect x="653" y="325" width="1" height="23" fill="#636368"/><rect x="651" y="337" width="5" height="5" fill="#636368"/><rect x="652" y="338" width="3" height="3" fill="#f23645"/><rect x="659" y="303" width="1" height="41" fill="#636368"/><rect x="657" y="305" width="5" height="37" fill="#636368"/><rect x="658" y="306" width="3" height="35" fill="#4caf50"/><rect x="666" y="269" width="1" height="43" fill="#636368"/><rect x="664" y="282" width="5" height="25" fill="#636368"/><rect x="665" y="283" width="3" height="23" fill="#4caf50"/><rect x="672" y="276" width="1" height="16" fill="#636368"/><rect x="670" y="281" width="5" height="1" fill="#636368"/><rect x="678" y="266" width="1" height="22" fill="#636368"/><rect x="676" y="274" width="5" height="12" fill="#636368"/><rect x="677" y="275" width="3" height="10" fill="#4caf50"/><rect x="685" y="246" width="1" height="38" fill="#636368"/><rect x="683" y="275" width="5" height="3" fill="#636368"/><rect x="684" y="276" width="3" height="1" fill="#f23645"/><rect x="691" y="271" width="1" height="30" fill="#636368"/><rect x="689" y="277" width="5" height="5" fill="#636368"/><rect x="690" y="278" width="3" height="3" fill="#f23645"/><rect x="697" y="269" width="1" height="27" fill="#636368"/><rect x="695" y="281" width="5" height="10" fill="#636368"/><rect x="696" y="282" width="3" height="8" fill="#f23645"/><rect x="704" y="282" width="1" height="19" fill="#636368"/><rect x="702" y="292" width="5" height="6" fill="#636368"/><rect x="703" y="293" width="3" height="4" fill="#f23645"/><rect x="710" y="265" width="1" height="34" fill="#636368"/><rect x="708" y="269" width="5" height="24" fill="#636368"/><rect x="709" y="270" width="3" height="22" fill="#4caf50"/><rect x="717" y="248" width="1" height="25" fill="#636368"/><rect x="715" y="253" width="5" height="20" fill="#636368"/><rect x="716" y="254" width="3" height="18" fill="#4caf50"/><rect x="723" y="245" width="1" height="19" fill="#636368"/><rect x="721" y="253" width="5" height="9" fill="#636368"/><rect x="722" y="254" width="3" height="7" fill="#f23645"/><rect x="729" y="251" width="1" height="19" fill="#636368"/><rect x="727" y="260" width="5" height="6" fill="#636368"/><rect x="728" y="261" width="3" height="4" fill="#f23645"/><rect x="736" y="255" width="1" height="21" fill="#636368"/><rect x="734" y="264" width="5" height="3" fill="#636368"/><rect x="735" y="265" width="3" height="1" fill="#4caf50"/><rect x="742" y="260" width="1" height="19" fill="#636368"/><rect x="740" y="265" width="5" height="13" fill="#636368"/><rect x="741" y="266" width="3" height="11" fill="#f23645"/><rect x="748" y="271" width="1" height="21" fill="#636368"/><rect x="746" y="278" width="5" height="1" fill="#636368"/><rect x="755" y="268" width="1" height="27" fill="#636368"/><rect x="753" y="276" width="5" height="17" fill="#636368"/><rect x="754" y="277" width="3" height="15" fill="#f23645"/><rect x="761" y="287" width="1" height="37" fill="#636368"/><rect x="759" y="290" width="5" height="2" fill="#636368"/><rect x="767" y="280" width="1" height="31" fill="#636368"/><rect x="765" y="291" width="5" height="18" fill="#636368"/><rect x="766" y="292" width="3" height="16" fill="#f23645"/><rect x="774" y="301" width="1" height="16" fill="#636368"/><rect x="772" y="310" width="5" height="6" fill="#636368"/><rect x="773" y="311" width="3" height="4" fill="#f23645"/><rect x="780" y="311" width="1" height="22" fill="#636368"/><rect x="778" y="316" width="5" height="9" fill="#636368"/><rect x="779" y="317" width="3" height="7" fill="#f23645"/><rect x="786" y="323" width="1" height="23" fill="#636368"/><rect x="784" y="325" width="5" height="12" fill="#636368"/><rect x="785" y="326" width="3" height="10" fill="#f23645"/><rect x="793" y="303" width="1" height="41" fill="#636368"/><rect x="791" y="320" width="5" height="19" fill="#636368"/><rect x="792" y="321" width="3" height="17" fill="#4caf50"/><rect x="799" y="314" width="1" height="23" fill="#636368"/><rect x="797" y="318" width="5" height="16" fill="#636368"/><rect x="798" y="319" width="3" height="14" fill="#f23645"/><rect x="805" y="323" width="1" height="14" fill="#636368"/><rect x="803" y="331" width="5" height="1" fill="#636368"/><rect x="812" y="331" width="1" height="28" fill="#636368"/><rect x="810" y="331" width="5" height="21" fill="#636368"/><rect x="811" y="332" width="3" height="19" fill="#f23645"/><rect x="818" y="341" width="1" height="23" fill="#636368"/><rect x="816" y="351" width="5" height="6" fill="#636368"/><rect x="817" y="352" width="3" height="4" fill="#f23645"/><rect x="825" y="330" width="1" height="37" fill="#636368"/><rect x="823" y="331" width="5" height="36" fill="#636368"/><rect x="824" y="332" width="3" height="34" fill="#4caf50"/><rect x="831" y="266" width="1" height="72" fill="#636368"/><rect x="829" y="288" width="5" height="46" fill="#636368"/><rect x="830" y="289" width="3" height="44" fill="#4caf50"/><rect x="837" y="280" width="1" height="35" fill="#636368"/><rect x="835" y="289" width="5" height="21" fill="#636368"/><rect x="836" y="290" width="3" height="19" fill="#f23645"/><rect x="844" y="272" width="1" height="46" fill="#636368"/><rect x="842" y="273" width="5" height="38" fill="#636368"/><rect x="843" y="274" width="3" height="36" fill="#4caf50"/><rect x="850" y="231" width="1" height="56" fill="#636368"/><rect x="848" y="234" width="5" height="41" fill="#636368"/><rect x="849" y="235" width="3" height="39" fill="#4caf50"/><rect x="856" y="192" width="1" height="39" fill="#636368"/><rect x="854" y="207" width="5" height="9" fill="#636368"/><rect x="855" y="208" width="3" height="7" fill="#4caf50"/><rect x="863" y="99" width="1" height="123" fill="#636368"/><rect x="861" y="121" width="5" height="88" fill="#636368"/><rect x="862" y="122" width="3" height="86" fill="#4caf50"/><rect x="869" y="117" width="1" height="81" fill="#636368"/><rect x="867" y="122" width="5" height="46" fill="#636368"/><rect x="868" y="123" width="3" height="44" fill="#f23645"/><rect x="875" y="145" width="1" height="48" fill="#636368"/><rect x="873" y="158" width="5" height="9" fill="#636368"/><rect x="874" y="159" width="3" height="7" fill="#4caf50"/><rect x="882" y="156" width="1" height="67" fill="#636368"/><rect x="880" y="159" width="5" height="64" fill="#636368"/><rect x="881" y="160" width="3" height="62" fill="#f23645"/><rect x="888" y="209" width="1" height="53" fill="#636368"/><rect x="886" y="222" width="5" height="33" fill="#636368"/><rect x="887" y="223" width="3" height="31" fill="#f23645"/><rect x="894" y="234" width="1" height="26" fill="#636368"/><rect x="892" y="240" width="5" height="17" fill="#636368"/><rect x="893" y="241" width="3" height="15" fill="#4caf50"/><rect x="901" y="229" width="1" height="25" fill="#636368"/><rect x="899" y="239" width="5" height="8" fill="#636368"/><rect x="900" y="240" width="3" height="6" fill="#f23645"/><rect x="907" y="238" width="1" height="24" fill="#636368"/><rect x="905" y="246" width="5" height="15" fill="#636368"/><rect x="906" y="247" width="3" height="13" fill="#f23645"/><rect x="913" y="235" width="1" height="32" fill="#636368"/><rect x="911" y="240" width="5" height="22" fill="#636368"/><rect x="912" y="241" width="3" height="20" fill="#4caf50"/><rect x="920" y="182" width="1" height="62" fill="#636368"/><rect x="918" y="188" width="5" height="55" fill="#636368"/><rect x="919" y="189" width="3" height="53" fill="#4caf50"/><rect x="926" y="181" width="1" height="22" fill="#636368"/><rect x="924" y="190" width="5" height="10" fill="#636368"/><rect x="925" y="191" width="3" height="8" fill="#f23645"/><rect x="933" y="181" width="1" height="51" fill="#636368"/><rect x="931" y="199" width="5" height="13" fill="#636368"/><rect x="932" y="200" width="3" height="11" fill="#f23645"/><rect x="939" y="201" width="1" height="20" fill="#636368"/><rect x="937" y="211" width="5" height="1" fill="#636368"/><rect x="945" y="204" width="1" height="20" fill="#636368"/><rect x="943" y="213" width="5" height="1" fill="#636368"/><rect x="952" y="210" width="1" height="14" fill="#636368"/><rect x="950" y="211" width="5" height="12" fill="#636368"/><rect x="951" y="212" width="3" height="10" fill="#f23645"/><rect x="958" y="220" width="1" height="27" fill="#636368"/><rect x="956" y="221" width="5" height="2" fill="#636368"/><rect x="964" y="218" width="1" height="41" fill="#636368"/><rect x="962" y="221" width="5" height="38" fill="#636368"/><rect x="963" y="222" width="3" height="36" fill="#f23645"/><rect x="971" y="245" width="1" height="35" fill="#636368"/><rect x="969" y="257" width="5" height="8" fill="#636368"/><rect x="970" y="258" width="3" height="6" fill="#f23645"/><rect x="977" y="245" width="1" height="34" fill="#636368"/><rect x="975" y="259" width="5" height="6" fill="#636368"/><rect x="976" y="260" width="3" height="4" fill="#4caf50"/><rect x="983" y="231" width="1" height="32" fill="#636368"/><rect x="981" y="251" width="5" height="7" fill="#636368"/><rect x="982" y="252" width="3" height="5" fill="#f23645"/><rect x="990" y="251" width="1" height="16" fill="#636368"/><rect x="988" y="255" width="5" height="9" fill="#636368"/><rect x="989" y="256" width="3" height="7" fill="#f23645"/><rect x="996" y="242" width="1" height="23" fill="#636368"/><rect x="994" y="244" width="5" height="20" fill="#636368"/><rect x="995" y="245" width="3" height="18" fill="#4caf50"/><rect x="1002" y="234" width="1" height="29" fill="#636368"/><rect x="1000" y="244" width="5" height="6" fill="#636368"/><rect x="1001" y="245" width="3" height="4" fill="#f23645"/><rect x="1009" y="235" width="1" height="20" fill="#636368"/><rect x="1007" y="240" width="5" height="12" fill="#636368"/><rect x="1008" y="241" width="3" height="10" fill="#4caf50"/><rect x="1015" y="251" width="1" height="66" fill="#636368"/><rect x="1013" y="266" width="5" height="43" fill="#636368"/><rect x="1014" y="267" width="3" height="41" fill="#f23645"/><rect x="1022" y="299" width="1" height="94" fill="#636368"/><rect x="1020" y="309" width="5" height="41" fill="#636368"/><rect x="1021" y="310" width="3" height="39" fill="#f23645"/><rect x="1028" y="326" width="1" height="43" fill="#636368"/><rect x="1026" y="337" width="5" height="13" fill="#636368"/><rect x="1027" y="338" width="3" height="11" fill="#4caf50"/><rect x="1034" y="330" width="1" height="47" fill="#636368"/><rect x="1032" y="339" width="5" height="13" fill="#636368"/><rect x="1033" y="340" width="3" height="11" fill="#f23645"/><rect x="1041" y="344" width="1" height="40" fill="#636368"/><rect x="1039" y="347" width="5" height="5" fill="#636368"/><rect x="1040" y="348" width="3" height="3" fill="#4caf50"/><rect x="1047" y="336" width="1" height="69" fill="#636368"/><rect x="1045" y="336" width="5" height="48" fill="#636368"/><rect x="1046" y="337" width="3" height="46" fill="#4caf50"/><rect x="1053" y="322" width="1" height="30" fill="#636368"/><rect x="1051" y="331" width="5" height="6" fill="#636368"/><rect x="1052" y="332" width="3" height="4" fill="#4caf50"/></g>
</svg>
<!-- legend -->
<div class="t lg" style="left:59px;top:47px">Vol · Ticks</div><div class="t lg" style="left:126px;top:47px;color:#26a69a;letter-spacing:-0.4px">158.66 K</div>
<div class="t lg" style="left:59px;top:71px;letter-spacing:-0.45px">EMA <span style="color:#555">50 close</span></div><div class="t lg" style="left:141px;top:71px;color:#f23645;letter-spacing:-0.1px">1.17428</div>
<div class="t lg" style="left:59px;top:95px;letter-spacing:-0.45px">EMA <span style="color:#555">200 close</span></div><div class="t lg" style="left:148.500px;top:95px;color:#2e2eff;letter-spacing:-0.1px">1.15900</div>
<div class="abs" style="left:59px;top:116px;width:29px;height:21px;border:1px solid #e0e0e0;border-radius:3px;background:#fff"></div>
<svg style="left:67px;top:122px" width="12" height="8" viewBox="0 0 12 8"><path class="ic" style="stroke-width:1.500" d="M2.500 6L6 2.500 9.500 6"/></svg>
<!-- TV logo -->
<svg style="left:0;top:0" width="120" height="715" viewBox="0 0 120 715"><g fill="#fff" stroke="#fff" stroke-width="3.600" stroke-linejoin="round"><path d="M62 623.100h11.900v14.700h-5.700v-8.800H62z"/><circle cx="79" cy="625.900" r="2.750"/><path d="M82.500 623.100h9.400l-5.700 14.700h-6.900z"/></g><g fill="#131313"><path d="M62 623.100h11.900v14.700h-5.700v-8.800H62z"/><circle cx="79" cy="625.900" r="2.750"/><path d="M82.500 623.100h9.400l-5.700 14.700h-6.900z"/></g></svg>
<!-- lightning -->
<svg style="left:1000px;top:600px" width="100" height="60" viewBox="1000 600 100 60"><circle cx="1053.500" cy="639.200" r="11" fill="#fff"/><circle cx="1053.500" cy="639.200" r="9.800" fill="#fff" stroke="#9c27b0" stroke-width="1.400"/><path fill="#9c27b0" d="M1056.700 634l-7.300 5.800 3.900.300-3.200 4.800 7.600-6-3.900-.400z"/></svg>

<!-- price axis -->
<div class="ax" style="top:83px">1.21000</div>
<div class="ax" style="top:136px">1.20000</div>
<div class="ax" style="top:189px">1.19000</div>
<div class="ax" style="top:296px">1.17000</div>
<div class="ax" style="top:456px">1.14000</div>
<div class="ax" style="top:509px">1.13000</div>
<div class="ax" style="top:562px">1.12000</div>
<div class="ax" style="top:615px">1.11000</div>
<div class="plab" style="top:241px;background:#2962ff">1.18000</div>
<div class="plab" style="top:272px;background:#f23645">1.17428</div>
<div class="abs" style="left:1114px;top:323px;width:51px;height:17px;background:#4caf50;border-radius:2px 0 0 2px;color:#fff;font-size:12px;line-height:17px;padding:1px 0 0 4.5px;overflow:hidden;white-space:nowrap"><span style="display:inline-block;transform:scaleX(.845);transform-origin:left">EURUSD</span></div>
<div class="abs" style="left:1166px;top:323px;width:60px;height:31px;background:#4caf50;border-radius:0 2px 2px 0;color:#fff;font-size:12px;line-height:14px;padding:2px 0 0 8px;letter-spacing:-0.15px">1.16472<br><span style="color:#d8eed9">05:34:32</span></div>
<div class="plab" style="top:354px;background:#2962ff;border-radius:0">1.16000</div>
<div class="plab" style="top:371px;background:#2e2eff">1.15900</div>
<div class="plab" style="top:401px;background:#2962ff">1.15000</div>
<div class="plab" style="top:569px;left:1166px;width:58px;background:#26a69a">158.66 K</div>

<!-- time axis -->
<div class="tx" style="left:68px">Aug</div>
<div class="tx" style="left:202px">Sep</div>
<div class="tx" style="left:341px">Oct</div>
<div class="tx" style="left:487px">Nov</div>
<div class="tx" style="left:614px">Dec</div>
<div class="tx" style="left:754px;font-weight:bold">2026</div>
<div class="tx" style="left:887px">Feb</div>
<div class="tx" style="left:1015px">Mar</div>
<div class="tx" style="left:1155px">Apr</div>
<svg style="left:1189.500px;top:658.400px" width="18" height="16" viewBox="0 0 18 16"><path class="ic" d="M5.500 2h7l3.500 6-3.500 6h-7L2 8z"/><circle class="ic" cx="9" cy="8" r="2"/></svg>
<div class="hsep" style="left:50px;top:680px;width:1181px;background:#e6e6e6"></div>
<!-- bottom bar -->
<div class="bt" style="left:64px">1D</div>
<div class="bt" style="left:92px">5D</div>
<div class="bt" style="left:120px">1M</div>
<div class="bt" style="left:149px">3M</div>
<div class="bt" style="left:178px">6M</div>
<div class="bt" style="left:207px">YTD</div>
<div class="bt" style="left:244px">1Y</div>
<div class="bt" style="left:271px">5Y</div>
<div class="bt" style="left:298px;letter-spacing:0.900px">All</div>
<div class="sep" style="left:326px;top:689px;height:21px"></div>
<svg style="left:330px;top:685px" width="40" height="30" viewBox="330 685 40 30"><path class="ic" style="stroke-width:1.200" d="M341.200 698.300v-3.600a2 2 0 0 1 2-2h13.400a2 2 0 0 1 2 2v9.800a2 2 0 0 1-2 2h-6.600M346.400 690.300v4.200M353.400 690.300v4.200M341.200 697.400h17.400M340.100 704.400h7.500M345 701.800l2.800 2.600-2.800 2.700"/></svg>
<div class="bt" style="left:1137px">15:25:27 UTC</div>

<!-- ===== RIGHT TOOLBAR ===== -->
<div id="right" class="panel"></div>
<svg id="ri" style="left:1235px;top:0" width="44" height="715" viewBox="1235 0 44 715">
<!-- watchlist -->
<path class="ic" style="stroke-width:1.200" d="M1248.200 50.200h19.800v22.200l-9.900-4.300-9.900 4.300zM1252.300 55.400h11.600M1252.300 59.500h11.600M1252.300 63.500h11.600"/>
<!-- alarm -->
<circle class="ic" style="stroke-width:1.200" cx="1258" cy="106.700" r="10.700"/><path class="ic" style="stroke-width:1.200" d="M1258.100 101.800v6.500h-4.600M1245.400 99.400l6-5.100M1264.800 94.300l5.800 5.100"/>
<!-- layers -->
<path class="ic" style="stroke-width:1.200" d="M1257.700 143.100l11.300 6.600-11.300 6.700-11.100-6.700zM1246.600 155.500l11.100 6.600 11.300-6.600"/>
<!-- chat -->
<path class="ic" style="stroke-width:1.200" d="M1246.600 207.400V191a2.800 2.800 0 0 1 2.800-2.800h13.600a2.800 2.800 0 0 1 2.800 2.800v9.500a2.800 2.800 0 0 1-2.800 2.800h-12.900zM1265.800 196.300h1a2.800 2.800 0 0 1 2.800 2.800v12.400l-4.400-4.100h-7a3.200 3.200 0 0 1-3.200-3.200"/>
<!-- target -->
<circle class="ic" style="stroke-width:1.200" cx="1257.900" cy="411.800" r="13.700"/><circle class="ic" style="stroke-width:1.200" cx="1257.900" cy="411.800" r="7.300"/><circle cx="1257.900" cy="411.800" r="2" fill="#131722"/><path class="ic" style="stroke-width:1.200" d="M1257.900 411.800l10.300-10.400"/>
<!-- pyramid -->
<path class="ic" style="stroke-width:1.200" d="M1257.900 444.400l10.100 11-6.600 4-6.300-5-6.600 2zM1249.800 460.400l-4.400 6h25.200l-4.500-6.200"/>
<!-- calendar -->
<rect class="ic" style="stroke-width:1.200" x="1246.400" y="490.700" width="23.200" height="20.700" rx="3"/><path class="ic" style="stroke-width:1.200" d="M1246.400 497.600h23.200"/><rect class="ic" style="stroke-width:1.200" x="1250.400" y="488.600" width="3.200" height="5" rx="1.400" fill="#fff"/><rect class="ic" style="stroke-width:1.200" x="1262.600" y="488.600" width="3.200" height="5" rx="1.400" fill="#fff"/>
<!-- signal -->
<circle class="ic" style="stroke-width:1.200" cx="1248.800" cy="553.800" r="1.700"/><path class="ic" style="stroke-width:1.200" d="M1247.200 546.300a9.200 9.200 0 0 1 9.200 9.200M1247.200 540.200a15.300 15.300 0 0 1 15.300 15.300M1247.200 534.300a21.200 21.200 0 0 1 21.200 21.200"/>
<!-- bell -->
<path class="ic" style="stroke-width:1.200" d="M1248.800 597.500v-8c0-3.500 1.800-5.500 4-7.500 1-2.500 2.700-4 4.800-4 3 0 4.500 1.500 5.600 4 2.700 2 4.500 4.500 4.500 7.500v8M1253.900 602.100c1.200 3.300 6.600 3.300 7.800 0"/><rect class="ic" style="stroke-width:1.200" x="1246.300" y="597.500" width="23.300" height="4.200" rx="2.100"/>
<!-- apps -->
<circle cx="1258" cy="638" r="17" fill="#2e2e2e"/>
<g fill="#fff"><rect x="1249.100" y="628.900" width="3.800" height="3.800" rx=".6"/><rect x="1256.100" y="628.900" width="3.800" height="3.800" rx=".6"/><rect x="1263.200" y="628.900" width="3.800" height="3.800" rx=".6"/><rect x="1249.100" y="635.800" width="3.800" height="3.800" rx=".6"/><rect x="1256.100" y="635.800" width="3.800" height="3.800" rx=".6"/><rect x="1263.200" y="635.800" width="3.800" height="3.800" rx=".6"/><rect x="1249.100" y="642.700" width="3.800" height="3.800" rx=".6"/><rect x="1256.100" y="642.700" width="3.800" height="3.800" rx=".6"/><rect x="1263.200" y="642.700" width="3.800" height="3.800" rx=".6"/></g>
<!-- help -->
<circle class="ic" style="stroke-width:1.200" cx="1257.800" cy="694.600" r="13.700"/><path class="ic" style="stroke-width:1.200" d="M1253.400 690.500a4.500 4.500 0 1 1 6.800 3.600c-1.600 1-2.300 2-2.300 4.200"/><circle class="ic" cx="1257.900" cy="701.400" r="1.300"/>
</svg>
<div class="abs" style="left:1260px;top:527px;width:16px;height:16px;border-radius:50%;background:#f23645;color:#fff;font-size:11px;font-weight:bold;line-height:16px;text-align:center">2</div>
<div class="abs" style="left:1260px;top:573px;width:16px;height:16px;border-radius:50%;background:#f23645;color:#fff;font-size:11px;font-weight:bold;line-height:16px;text-align:center">2</div>
<div class="hsep" style="left:1241px;top:666px;width:33px"></div>
</body>
</html>
